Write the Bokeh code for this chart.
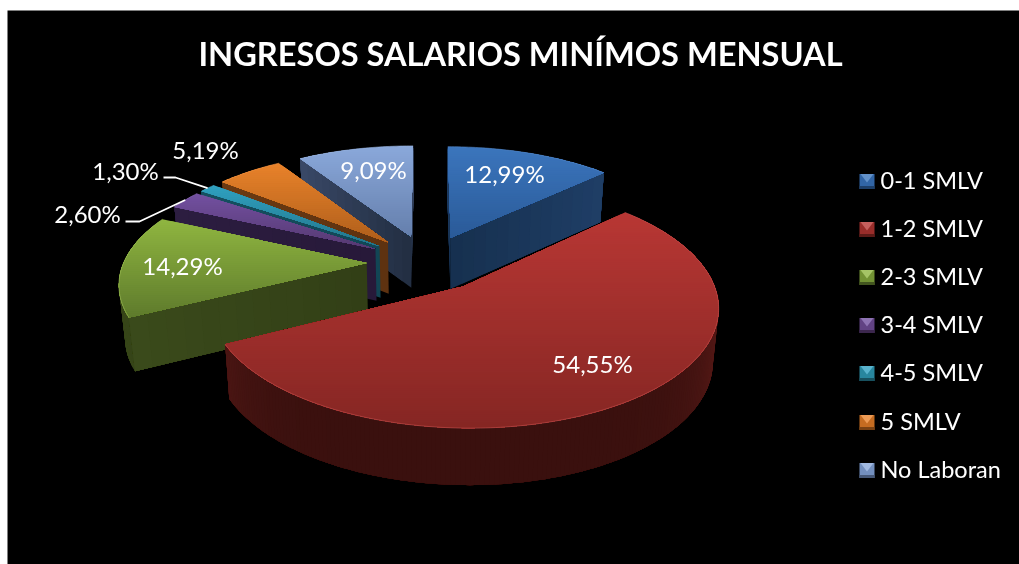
import math
from bokeh.plotting import figure
from bokeh.models import ColumnDataSource
from bokeh.core.properties import value
from bokeh.embed import file_html
from bokeh.resources import INLINE

TITLE = "INGRESOS SALARIOS MINÍMOS MENSUAL"
CATEGORIES = ["0-1 SMLV", "1-2 SMLV", "2-3 SMLV", "3-4 SMLV", "4-5 SMLV", "5 SMLV", "No Laboran"]
VALUES = [12.99, 54.55, 14.29, 2.60, 1.30, 5.19, 9.09]

TOP_LIGHT = ["#3B75BC", "#B83734", "#8FB540", "#7250A0", "#2FA0C0", "#E8822A", "#8AA8DA"]
TOP_DARK = ["#2A5A98", "#852623", "#5E7A2C", "#55386F", "#237488", "#AE5E1B", "#647EAB"]
WALL_IN = ["#16304F", "#3A100E", "#323F16", "#271939", "#124655", "#5E3210", "#222E42"]
WALL_OUT = ["#1F3E66", "#5A1B18", "#3A4A1B", "#2C1D40", "#155060", "#6B3A12", "#3A4967"]

# layout of the projected pie (reference pixels)
CX, CY, RX, RY, PERSP, DEPTH, SHRINK, EXPLODE = 427, 262, 243, 112, 0.154, 52, 0.02, 0.25
LABEL_POS = [(504, 173), (592, 363), (182, 265), (87, 213), (125, 170), (205, 149), (373, 169)]
LEADER_START = {3: [(125, 221), (139, 221)], 4: [(163, 177), (175, 177)]}
LEGEND_Y = [181, 229, 277, 325, 373, 422, 470]

W, H = 1012, 554
p = figure(width=W, height=H, x_range=(7, 1019), y_range=(564, 10), output_backend="svg",
           toolbar_location=None, min_border=0, background_fill_color="black",
           border_fill_color="black", outline_line_color=None, x_axis_type=None, y_axis_type=None)
p.grid.visible = False
p.styles = {"position": "fixed", "left": "7px", "top": "10px"}


def rgb(h):
    return tuple(int(h[i:i + 2], 16) for i in (1, 3, 5))


def mix(a, b, t):
    t = max(0.0, min(1.0, t))
    ca, cb = rgb(a), rgb(b)
    return "#%02x%02x%02x" % tuple(round(x + (y - x) * t) for x, y in zip(ca, cb))


def proj(u, v, z=0.0):
    s = 1.0 / (1.0 - PERSP * v)
    k = 1.0 - SHRINK * z
    return (CX + RX * u * s * k, CY + RY * v * s * k + z * DEPTH * (0.3 + 0.7 * s))


def clip_below(poly, y0):
    out = []
    for i, (x1, y1) in enumerate(poly):
        x2, y2 = poly[(i + 1) % len(poly)]
        if y1 >= y0:
            out.append((x1, y1))
        if (y1 >= y0) != (y2 >= y0):
            t = (y0 - y1) / (y2 - y1)
            out.append((x1 + (x2 - x1) * t, y0))
    return out


xs, ys, cols = [], [], []


def add(poly, c):
    xs.append([q[0] for q in poly])
    ys.append([q[1] for q in poly])
    cols.append(c)


total = sum(VALUES)
spans, a = [], 0.0
for v in VALUES:
    b = a + 2 * math.pi * v / total
    spans.append((a, b))
    a = b
mids = [(s + e) / 2 for s, e in spans]
offs = [(EXPLODE * math.sin(m), -EXPLODE * math.cos(m)) for m in mids]


def wall(i, th, inner_pt):
    ou, ov = offs[i]
    u, v = ou + math.sin(th), ov - math.cos(th)
    a0, r0 = proj(ou, ov), proj(u, v)
    ex, ey = r0[0] - a0[0], r0[1] - a0[1]
    if abs(ex) < 1e-6:
        return
    t = (inner_pt[0] - a0[0]) / ex
    if a0[1] + ey * t < inner_pt[1]:
        return
    n = 14
    for j in range(n):
        t0 = j / n
        start = (ou + (u - ou) * t0, ov + (v - ov) * t0)
        q = [proj(*start), proj(u, v), proj(u, v, 1), proj(start[0], start[1], 1)]
        add(q, mix(WALL_IN[i], WALL_OUT[i], (j + 0.5) / n))


highlights = []
for i in [6, 5, 4, 3, 0, 2, 1]:
    s, e = spans[i]
    ou, ov = offs[i]
    n = max(6, int((e - s) * 60))
    ths = [s + (e - s) * j / n for j in range(n + 1)]
    rim = [proj(ou + math.sin(t), ov - math.cos(t)) for t in ths]
    vis = [j for j in range(n) if rim[j + 1][0] < rim[j][0]]
    for j in vis:
        last = j
        while last + 1 in vis and last - j < 6:
            last += 1
        arc = ths[j:last + 2]
        top = [proj(ou + math.sin(t), ov - math.cos(t)) for t in arc]
        bot = [proj(ou + math.sin(t), ov - math.cos(t), 1) for t in reversed(arc)]
        tm = (ths[j] + ths[j + 1]) / 2
        add(top + bot, mix(WALL_IN[i], WALL_OUT[i], abs(math.sin(tm)) ** 6))
    mid_pt = proj(ou + 0.6 * math.sin(mids[i]), ov - 0.6 * math.cos(mids[i]))
    wall(i, s, mid_pt)
    wall(i, e, mid_pt)
    poly = [proj(ou, ov)] + rim
    y_min, y_max = min(q[1] for q in poly), max(q[1] for q in poly)
    add(poly, TOP_LIGHT[i])
    y = y_min + 2
    while y < y_max:
        c = clip_below(poly, y)
        if len(c) >= 3:
            add(c, mix(TOP_LIGHT[i], TOP_DARK[i], (y - y_min) / (y_max - y_min)))
        y += 2
    highlights.append((rim, mix(TOP_LIGHT[i], "#ffffff", 0.12)))

p.patches("xs", "ys", source=ColumnDataSource(dict(xs=xs, ys=ys, c=cols)),
          fill_color="c", line_color=None)
for rim, c in highlights:
    p.line([q[0] for q in rim], [q[1] for q in rim], line_color=c, line_width=1, line_alpha=0.6)

# leader lines, ending on the slice rims
for i, pts in LEADER_START.items():
    ou, ov = offs[i]
    end = proj(ou + math.sin(mids[i]), ov - math.cos(mids[i]))
    p.line([q[0] for q in pts] + [end[0]], [q[1] for q in pts] + [end[1]],
           line_color="white", line_width=1.8)

labels = [f"{v:.2f}".replace(".", ",") + "%" for v in VALUES]
p.text([q[0] for q in LABEL_POS], [q[1] for q in LABEL_POS], text=labels, text_color="white",
       text_font=value("Lato"), text_font_size="24px", text_align="center", text_baseline="middle")

p.text([520], [53], text=[TITLE], text_color="white", text_font=value("Lato"),
       text_font_style="bold", text_font_size="32.6px", text_align="center", text_baseline="middle")

# legend
lx, lh = 859, 15
for i, y in enumerate(LEGEND_Y):
    x0, x1, y0, y1 = lx, lx + lh, y - lh / 2, y + lh / 2
    xc = (x0 + x1) / 2
    light, dark = TOP_LIGHT[i], TOP_DARK[i]
    main = mix(light, dark, 0.6)
    p.patch([x0, x1, x1, x0], [y0, y0, y1, y1], fill_color=main, line_color=None)
    p.patch([x0, x1, x1, x0], [y1 - 3, y1 - 3, y1, y1], fill_color=mix(dark, "#000000", 0.3), line_color=None)
    p.patch([x0 + 1, x1 - 1, xc], [y0, y0, y + 1], fill_color=mix(light, "#ffffff", 0.2), line_color=None)
p.text([880] * 7, [y - 1.5 for y in LEGEND_Y], text=CATEGORIES, text_color="white", text_font=value("Lato"),
       text_font_size="23.5px", text_align="left", text_baseline="middle")

open("out.html", "w").write(file_html(p, INLINE))
